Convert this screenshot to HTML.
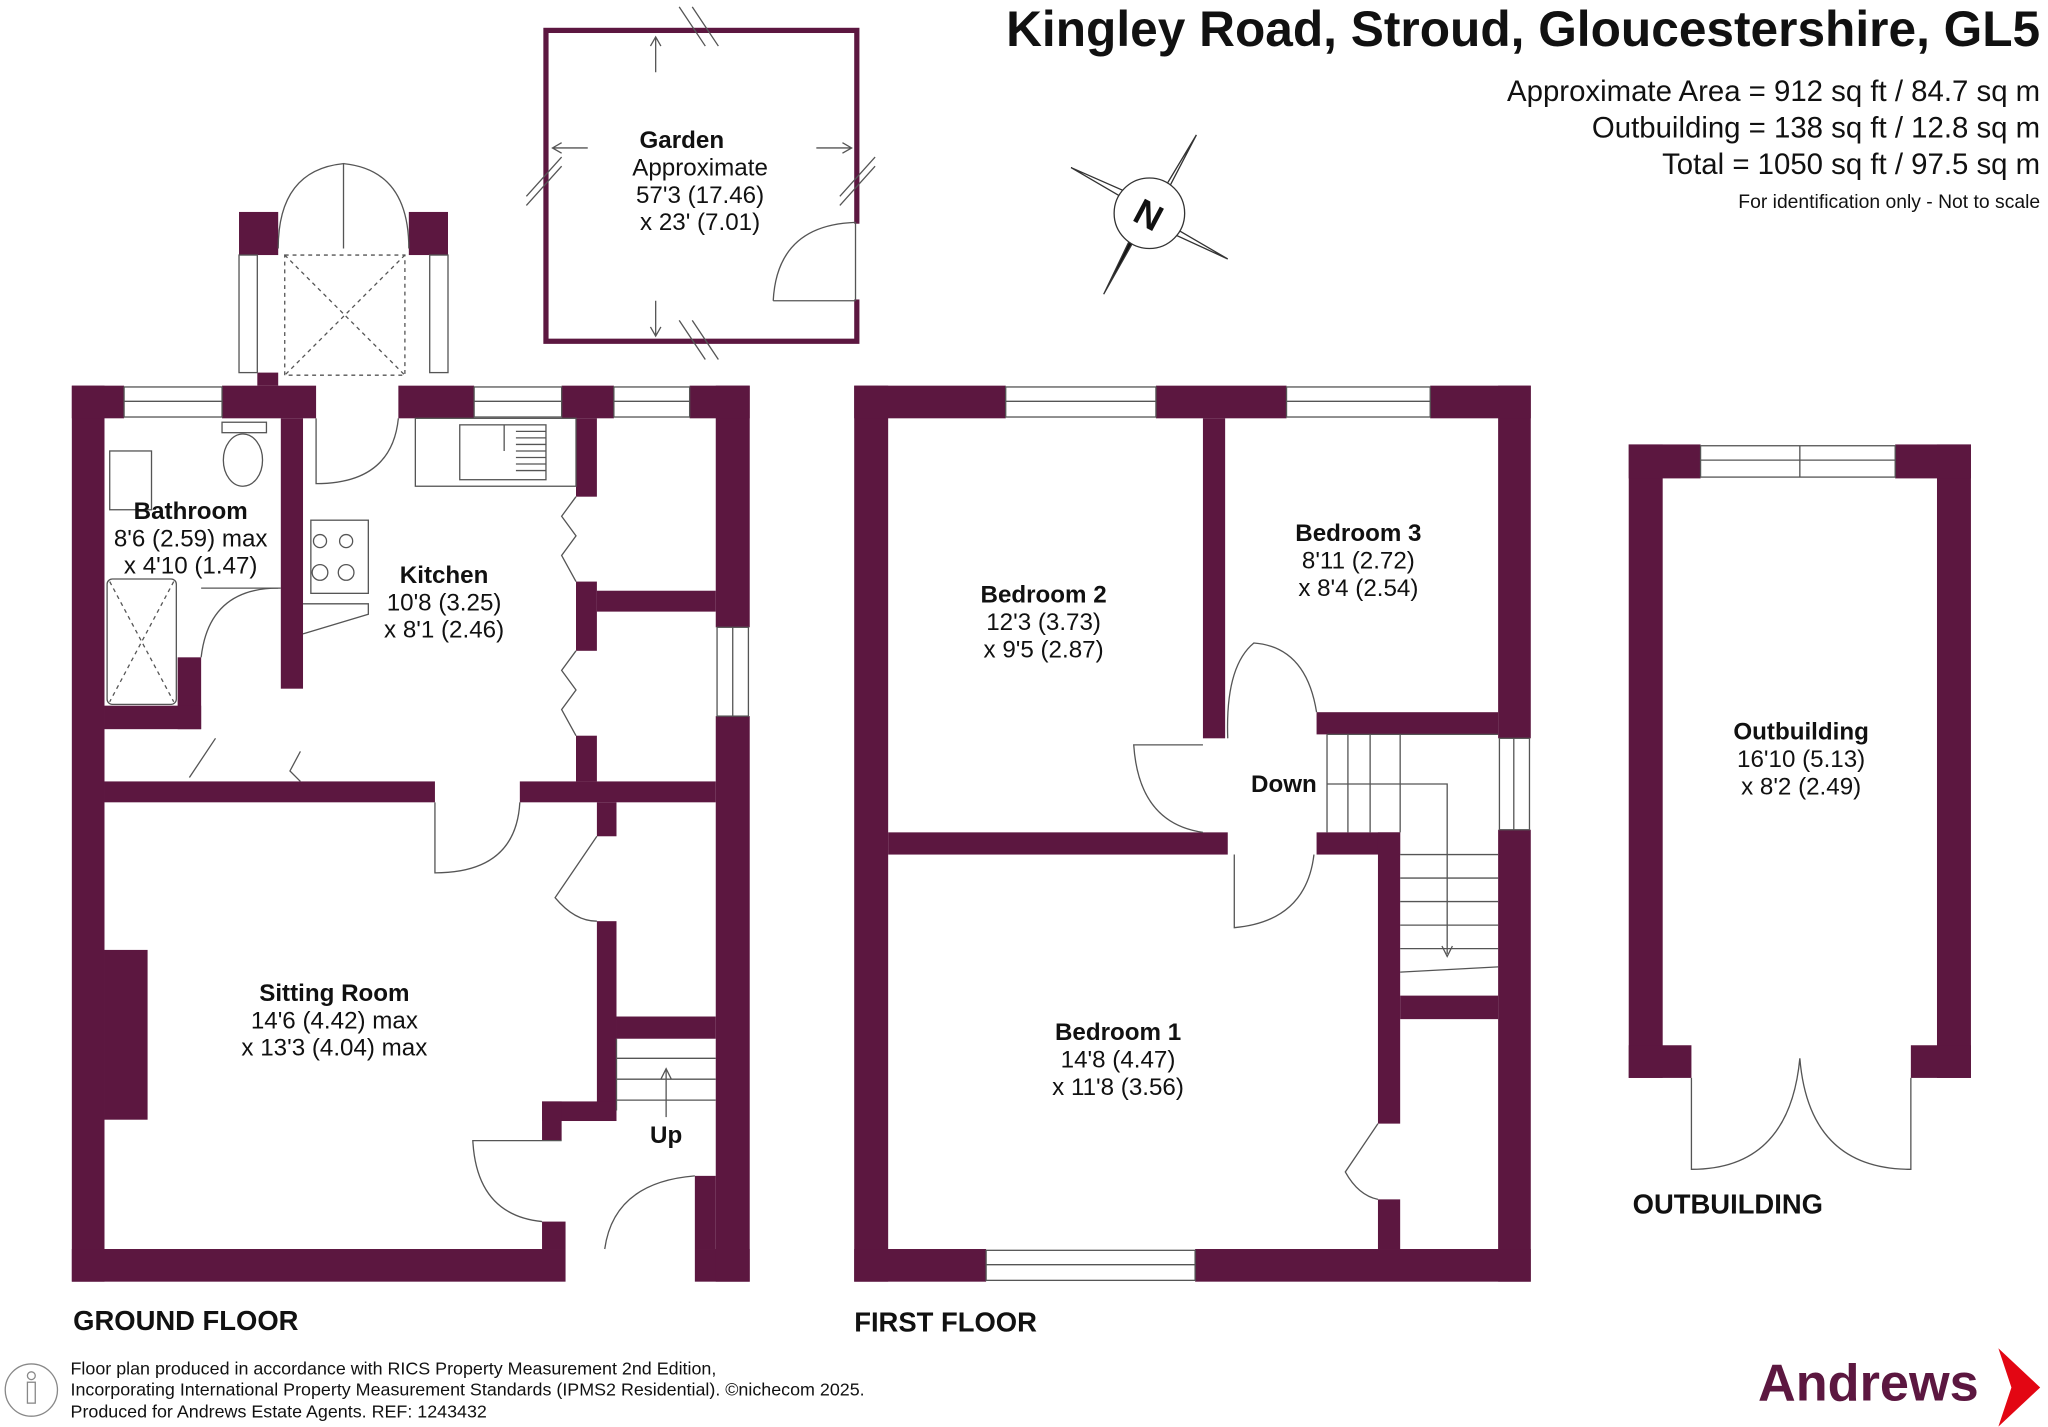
<!DOCTYPE html>
<html><head><meta charset="utf-8"><style>
html,body{margin:0;padding:0;background:#fff;}
svg{display:block}
text{font-family:"Liberation Sans",Arial,sans-serif;fill:#111}
</style></head><body>
<svg width="2048" height="1427" viewBox="0 0 1568 1092" xmlns="http://www.w3.org/2000/svg">
<rect width="1568" height="1092" fill="#fff"/>
<g fill="#5c1740">
<rect x="55" y="295" width="25" height="686"/>
<rect x="55" y="956" width="378" height="25"/>
<rect x="532" y="956" width="42" height="25"/>
<rect x="548" y="295" width="26" height="185"/>
<rect x="548" y="548" width="26" height="433"/>
<rect x="55" y="295" width="40" height="25"/>
<rect x="170" y="295" width="72" height="25"/>
<rect x="305" y="295" width="58" height="25"/>
<rect x="430" y="295" width="40" height="25"/>
<rect x="528" y="295" width="46" height="25"/>
<rect x="80" y="598" width="253" height="16"/>
<rect x="398" y="598" width="150" height="16"/>
<rect x="215" y="320" width="17" height="207"/>
<rect x="136" y="503" width="18" height="55"/>
<rect x="80" y="540" width="74" height="18"/>
<rect x="441" y="320" width="16" height="60"/>
<rect x="441" y="445" width="16" height="53"/>
<rect x="441" y="563" width="16" height="35"/>
<rect x="457" y="452" width="91" height="16"/>
<rect x="457" y="614" width="15" height="26"/>
<rect x="457" y="705" width="15" height="145"/>
<rect x="472" y="778" width="76" height="17"/>
<rect x="415" y="843" width="57" height="15"/>
<rect x="415" y="843" width="15" height="30"/>
<rect x="415" y="935" width="18" height="21"/>
<rect x="532" y="900" width="16" height="56"/>
<rect x="80" y="727" width="33" height="130"/>
<rect x="183" y="162" width="30" height="33"/>
<rect x="313" y="162" width="30" height="33"/>
<rect x="197" y="285" width="16" height="10"/>
<rect x="654" y="295" width="26" height="686"/>
<rect x="1147" y="295" width="25" height="270"/>
<rect x="1147" y="635" width="25" height="346"/>
<rect x="654" y="956" width="101" height="25"/>
<rect x="915" y="956" width="257" height="25"/>
<rect x="654" y="295" width="116" height="25"/>
<rect x="885" y="295" width="100" height="25"/>
<rect x="1095" y="295" width="77" height="25"/>
<rect x="680" y="637" width="260" height="17"/>
<rect x="921" y="320" width="17" height="245"/>
<rect x="1008" y="545" width="139" height="17"/>
<rect x="1008" y="637" width="64" height="17"/>
<rect x="1055" y="637" width="17" height="223"/>
<rect x="1055" y="918" width="17" height="38"/>
<rect x="1072" y="762" width="75" height="18"/>
<rect x="1247" y="340" width="26" height="485"/>
<rect x="1483" y="340" width="26" height="485"/>
<rect x="1247" y="340" width="55" height="26"/>
<rect x="1451" y="340" width="58" height="26"/>
<rect x="1247" y="800" width="48" height="25"/>
<rect x="1463" y="800" width="46" height="25"/>
</g>
<g fill="none" stroke="#555" stroke-width="1">
<rect x="95" y="296" width="75" height="23"/><line x1="95" y1="307" x2="170" y2="307"/>
<rect x="363" y="296" width="67" height="23"/><line x1="363" y1="307" x2="430" y2="307"/>
<rect x="470" y="296" width="58" height="23"/><line x1="470" y1="307" x2="528" y2="307"/>
<rect x="549" y="480" width="24" height="68"/><line x1="561" y1="480" x2="561" y2="548"/>
<rect x="770" y="296" width="115" height="23"/><line x1="770" y1="307" x2="885" y2="307"/>
<rect x="985" y="296" width="110" height="23"/><line x1="985" y1="307" x2="1095" y2="307"/>
<rect x="755" y="957" width="160" height="23"/><line x1="755" y1="968" x2="915" y2="968"/>
<rect x="1148" y="565" width="23" height="70"/><line x1="1159" y1="565" x2="1159" y2="635"/>
<rect x="1302" y="341" width="149" height="24"/><line x1="1302" y1="352" x2="1451" y2="352"/><line x1="1378" y1="341" x2="1378" y2="365"/>
<rect x="183" y="195" width="14" height="90"/><rect x="329" y="195" width="14" height="90"/>
<rect x="218" y="195" width="92" height="92" stroke-dasharray="3,3"/>
<line x1="218" y1="195" x2="310" y2="287" stroke-dasharray="3,3"/><line x1="310" y1="195" x2="218" y2="287" stroke-dasharray="3,3"/>
<path d="M213 190 Q213 130 263 125 L263 190"/><path d="M313 190 Q313 130 263 125"/>
<path d="M242 320 L242 370 Q300 370 305 320"/>
<path d="M213 450 Q160 450 154 503"/><line x1="154" y1="450" x2="215" y2="450"/>
<path d="M333 614 L333 668 Q395 668 398 614"/>
<path d="M430 873 L362 873 Q365 930 415 935"/>
<path d="M532 900 Q470 905 463 956"/>
<path d="M457 640 L425 687 Q440 705 457 705"/>
<path d="M441 380 L430 395 L441 410 L430 425 L441 445"/>
<path d="M441 498 L430 513 L441 528 L430 543 L441 563"/>
<path d="M145 595 L165 565 M230 575 L222 590 L230 598"/>
<path d="M921 570 L868 570 Q872 630 921 637"/>
<path d="M1008 545 Q1000 495 960 492 Q938 510 940 565"/>
<path d="M945 654 L945 710 Q1000 705 1006 654"/>
<path d="M1055 860 L1030 897 Q1040 915 1055 918"/>
<path d="M1295 825 L1295 895 Q1370 895 1378 810 Q1385 895 1463 895 L1463 825"/>
<path d="M1016 562 L1016 637 M1016 562 L1147 562"/>
<path d="M1032 562 V637 M1049 562 V637 M1072 562 V637"/>
<path d="M1072 654 H1147 M1072 672 H1147 M1072 690 H1147 M1072 708 H1147 M1072 726 H1147 M1072 744 L1147 740"/>
<path d="M1016 600 H1108 V730"/><path d="M1104 724 L1108 732 L1112 724"/>
<path d="M472 795 V850 M472 810 H548 M472 826 H548 M472 842 H548"/>
<path d="M510 855 V818"/><path d="M506 826 L510 818 L514 826"/>
<rect x="318" y="320" width="123" height="52"/>
<rect x="352" y="325" width="66" height="42"/>
<path d="M386 325 V345 M395 330 H418 M395 335 H418 M395 340 H418 M395 345 H418 M395 350 H418 M395 355 H418 M395 360 H418"/>
<rect x="238" y="398" width="44" height="56"/>
<path d="M232 462 L282 462 L282 470 L232 485"/>
<rect x="82" y="443" width="53" height="96" rx="4"/>
<path d="M84 445 L133 537 M133 445 L84 537" stroke-dasharray="3,3"/>
<rect x="84" y="345" width="32" height="45"/>
<ellipse cx="186" cy="352" rx="15" ry="20"/>
<rect x="170" y="323" width="34" height="8"/>
</g>
<circle cx="245" cy="414" r="5" fill="none" stroke="#555"/><circle cx="265" cy="414" r="5" fill="none" stroke="#555"/>
<circle cx="245" cy="438" r="6" fill="none" stroke="#555"/><circle cx="265" cy="438" r="6" fill="none" stroke="#555"/>
<rect x="418" y="23" width="238" height="238" fill="none" stroke="#5c1740" stroke-width="4"/>
<rect x="652" y="171" width="8" height="58" fill="#fff"/>
<path d="M592 230 Q595 172 655 170" fill="none" stroke="#555"/>
<line x1="655" y1="170" x2="655" y2="230" stroke="#555"/>
<line x1="592" y1="230" x2="655" y2="230" stroke="#555"/>
<g stroke="#555" fill="none">
<path d="M502 55 V28 M498 35 L502 28 L506 35"/>
<path d="M502 230 V257 M498 250 L502 257 L506 250"/>
<path d="M450 113 H423 M430 109 L423 113 L430 117"/>
<path d="M625 113 H652 M645 109 L652 113 L645 117"/>
<path d="M520 5 L540 35 M530 5 L550 35 M520 245 L540 275 M530 245 L550 275 M403 150 L430 120 M403 157 L430 127 M643 150 L670 120 M643 157 L670 127"/>
</g>
<g stroke="#333" fill="#fff" stroke-width="1">
<polygon points="880,163 820,128 870,150"/><polygon points="880,163 916,103 890,153"/>
<polygon points="880,163 940,198 890,175"/>
<polygon points="880,163 845,225 870,173" fill="#111"/>
<circle cx="880" cy="163" r="27"/>
</g>
<text x="880" y="174" font-size="28" font-weight="bold" text-anchor="middle" transform="rotate(28 880 163)">N</text>
<g font-size="18.5" text-anchor="middle">
<text x="522" y="113" font-weight="bold">Garden</text><text x="536" y="134">Approximate</text><text x="536" y="155">57'3 (17.46)</text><text x="536" y="176">x 23' (7.01)</text>
<text x="146" y="397" font-weight="bold">Bathroom</text><text x="146" y="418">8'6 (2.59) max</text><text x="146" y="439">x 4'10 (1.47)</text>
<text x="340" y="446" font-weight="bold">Kitchen</text><text x="340" y="467">10'8 (3.25)</text><text x="340" y="488">x 8'1 (2.46)</text>
<text x="256" y="766" font-weight="bold">Sitting Room</text><text x="256" y="787">14'6 (4.42) max</text><text x="256" y="808">x 13'3 (4.04) max</text>
<text x="510" y="875" font-weight="bold">Up</text>
<text x="799" y="461" font-weight="bold">Bedroom 2</text><text x="799" y="482">12'3 (3.73)</text><text x="799" y="503">x 9'5 (2.87)</text>
<text x="1040" y="414" font-weight="bold">Bedroom 3</text><text x="1040" y="435">8'11 (2.72)</text><text x="1040" y="456">x 8'4 (2.54)</text>
<text x="983" y="606" font-weight="bold">Down</text>
<text x="856" y="796" font-weight="bold">Bedroom 1</text><text x="856" y="817">14'8 (4.47)</text><text x="856" y="838">x 11'8 (3.56)</text>
<text x="1379" y="566" font-weight="bold">Outbuilding</text><text x="1379" y="587">16'10 (5.13)</text><text x="1379" y="608">x 8'2 (2.49)</text>
</g>
<g font-size="21" font-weight="bold">
<text x="56" y="1018">GROUND FLOOR</text><text x="654" y="1019">FIRST FLOOR</text><text x="1250" y="929">OUTBUILDING</text>
</g>
<text x="1562" y="35" font-size="38" font-weight="bold" text-anchor="end">Kingley Road, Stroud, Gloucestershire, GL5</text>
<g font-size="22.5" text-anchor="end">
<text x="1562" y="77">Approximate Area = 912 sq ft / 84.7 sq m</text>
<text x="1562" y="105">Outbuilding = 138 sq ft / 12.8 sq m</text>
<text x="1562" y="133">Total = 1050 sq ft / 97.5 sq m</text>
<text x="1562" y="159" font-size="14.8">For identification only - Not to scale</text>
</g>
<g font-size="13.7" fill="#444">
<text x="54" y="1052">Floor plan produced in accordance with RICS Property Measurement 2nd Edition,</text>
<text x="54" y="1068">Incorporating International Property Measurement Standards (IPMS2 Residential).  ©nichecom 2025.</text>
<text x="54" y="1085">Produced for Andrews Estate Agents.   REF: 1243432</text>
</g>
<circle cx="24" cy="1064" r="20" fill="none" stroke="#888"/>
<circle cx="24" cy="1053" r="3" fill="none" stroke="#888"/><rect x="21" y="1058" width="6" height="16" fill="none" stroke="#888"/>
<text x="1346" y="1072" font-size="40" font-weight="bold" style="fill:#5c1740">Andrews</text>
<polygon points="1530,1032 1562,1062 1530,1092 1540,1062" fill="#e30613"/>
</svg>
</body></html>
